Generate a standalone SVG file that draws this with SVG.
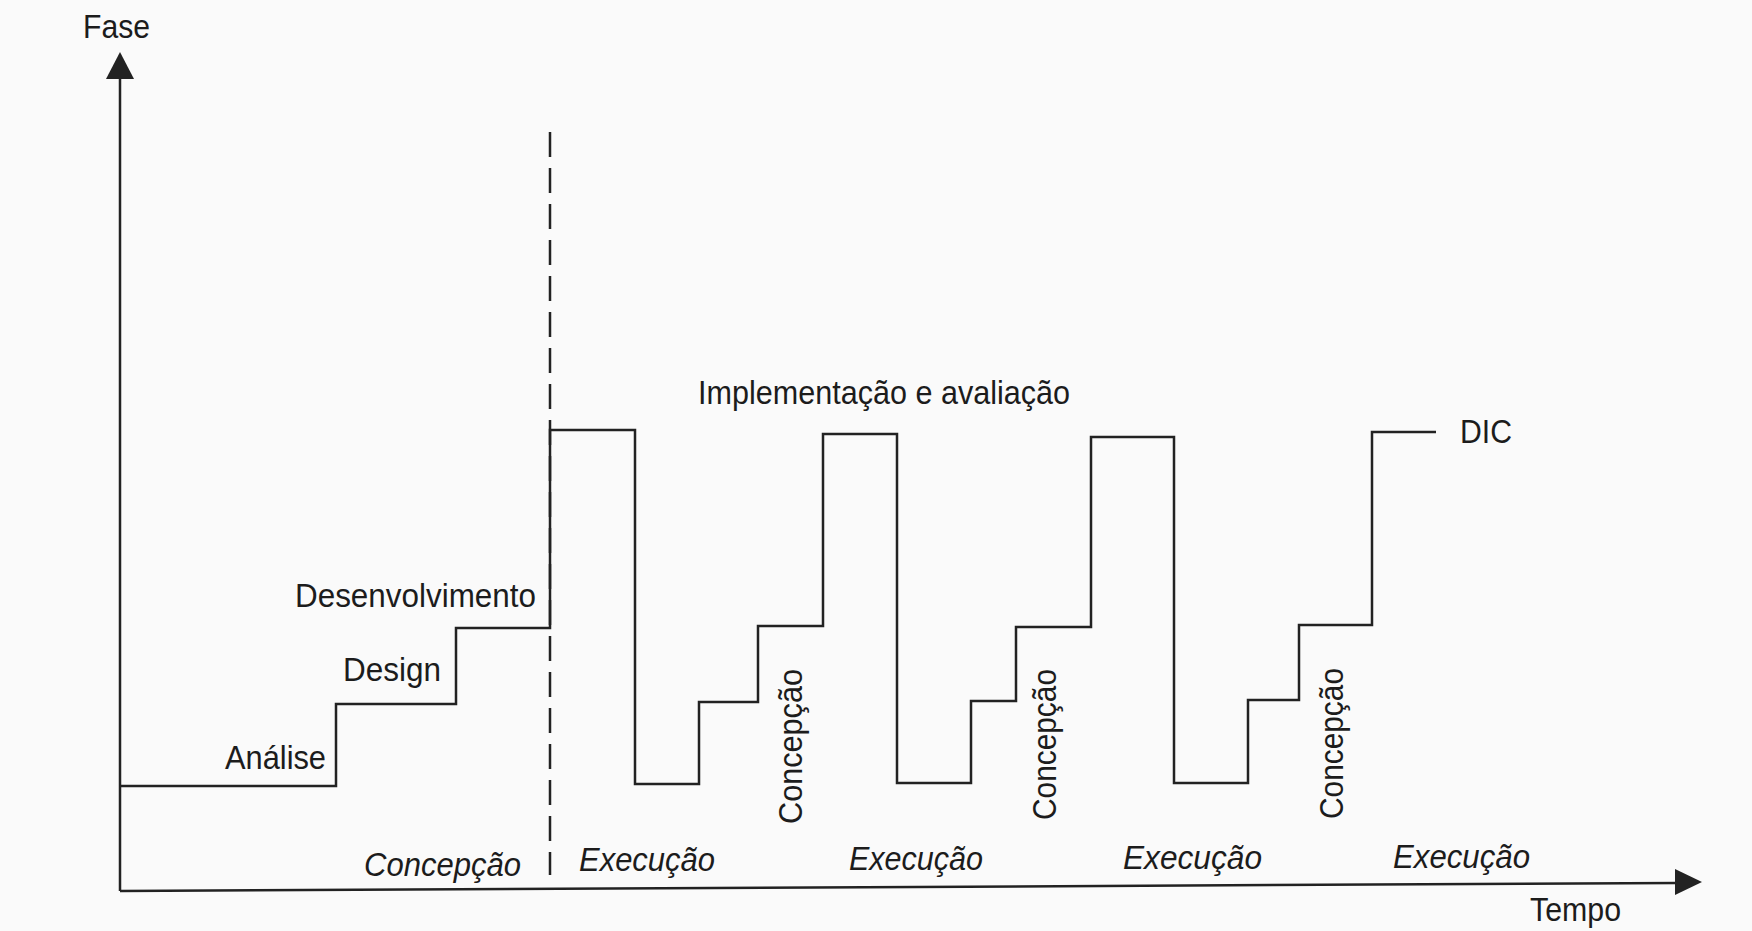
<svg xmlns="http://www.w3.org/2000/svg" width="1752" height="931" viewBox="0 0 1752 931">
  <style>
    .ln { fill: none; stroke: #222; stroke-width: 2.5; stroke-linejoin: miter; }
    .dash { fill: none; stroke: #222; stroke-width: 2.5; stroke-dasharray: 25 11; }
    .t { font-family: "Liberation Sans", Arial, sans-serif; font-size: 33px; fill: #1c1c1c; }
    .i { font-style: italic; }
  </style>
  <rect x="0" y="0" width="1752" height="931" fill="#fafafa"/>

  <g id="connectors">
    <g id="y-axis">
      <line class="ln" x1="120" y1="891" x2="120" y2="76"/>
      <path d="M120,52 L106,79 L134,79 Z" fill="#222"/>
    </g>
    <g id="x-axis">
      <line class="ln" x1="120" y1="891" x2="1678" y2="883"/>
      <path d="M1702,882 L1675,869 L1675,895 Z" fill="#222"/>
    </g>
    <line id="divider" class="dash" x1="550" y1="132" x2="550" y2="875"/>
    <path id="steps" class="ln" d="M120,786 H336 V704 H456 V628 H550 V430 H635 V784 H699 V702 H758 V626 H823 V434 H897 V783 H971 V701 H1016 V627 H1091 V437 H1174 V783 H1248 V700 H1299 V625 H1372 V432 H1436"/>
  </g>

  <g id="axis-labels">
    <text class="t" x="83" y="38" textLength="67" lengthAdjust="spacingAndGlyphs">Fase</text>
    <text class="t" x="1530" y="921" textLength="91" lengthAdjust="spacingAndGlyphs">Tempo</text>
  </g>

  <g id="node-analise"><text class="t" x="225" y="769" textLength="101" lengthAdjust="spacingAndGlyphs">Análise</text></g>
  <g id="node-design"><text class="t" x="343" y="681" textLength="98" lengthAdjust="spacingAndGlyphs">Design</text></g>
  <g id="node-desenvolvimento"><text class="t" x="295" y="607" textLength="241" lengthAdjust="spacingAndGlyphs">Desenvolvimento</text></g>
  <g id="node-implementacao"><text class="t" x="698" y="404" textLength="372" lengthAdjust="spacingAndGlyphs">Implementação e avaliação</text></g>
  <g id="node-dic"><text class="t" x="1460" y="443" textLength="52" lengthAdjust="spacingAndGlyphs">DIC</text></g>

  <g id="node-concepcao-main"><text class="t i" x="364" y="876" textLength="157" lengthAdjust="spacingAndGlyphs">Concepção</text></g>
  <g id="node-execucao-1"><text class="t i" x="579" y="871" textLength="136" lengthAdjust="spacingAndGlyphs">Execução</text></g>
  <g id="node-execucao-2"><text class="t i" x="849" y="870" textLength="134" lengthAdjust="spacingAndGlyphs">Execução</text></g>
  <g id="node-execucao-3"><text class="t i" x="1123" y="869" textLength="139" lengthAdjust="spacingAndGlyphs">Execução</text></g>
  <g id="node-execucao-4"><text class="t i" x="1393" y="868" textLength="137" lengthAdjust="spacingAndGlyphs">Execução</text></g>

  <g id="node-concepcao-v1"><text class="t" transform="translate(802,824) rotate(-90)" x="0" y="0" textLength="155" lengthAdjust="spacingAndGlyphs">Concepção</text></g>
  <g id="node-concepcao-v2"><text class="t" transform="translate(1056,820) rotate(-90)" x="0" y="0" textLength="151" lengthAdjust="spacingAndGlyphs">Concepção</text></g>
  <g id="node-concepcao-v3"><text class="t" transform="translate(1343,819) rotate(-90)" x="0" y="0" textLength="151" lengthAdjust="spacingAndGlyphs">Concepção</text></g>
</svg>
